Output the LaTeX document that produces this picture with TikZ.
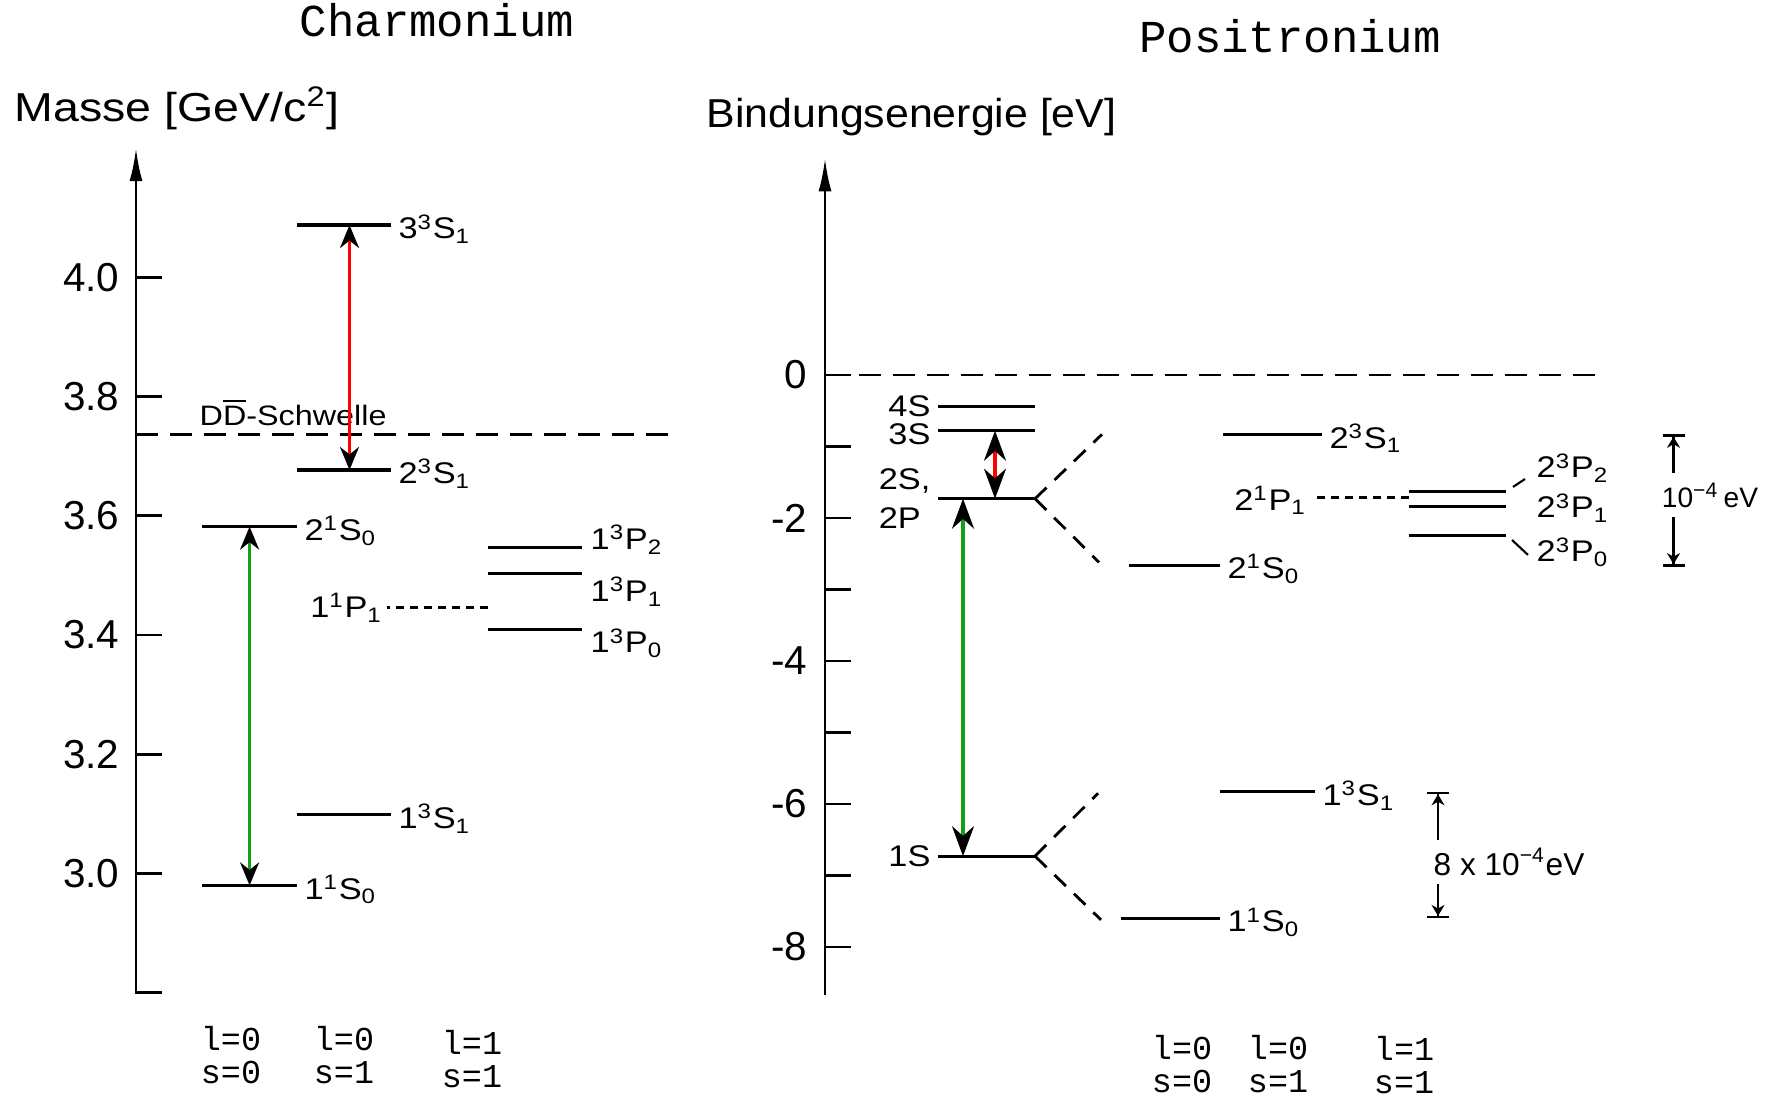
\documentclass[tikz,border=0pt]{standalone}
\usepackage{fontspec}
\setmainfont{Liberation Sans}
\newfontfamily\widesans[FakeStretch=1.15]{Liberation Sans}
\newfontfamily\midsans[FakeStretch=1.06]{Liberation Sans}
\newfontfamily\typew{Liberation Mono}
\usetikzlibrary{arrows.meta}
\definecolor{trgreen}{RGB}{20,160,20}
\newcommand{\termsym}[4]{#1\textsuperscript{#2}#3\textsubscript{#4}}

\begin{document}
\begin{tikzpicture}[>=Stealth,
  lvl/.style={line width=0.9pt},
  tick/.style={line width=0.8pt},
  axis/.style={line width=0.8pt,-{Latex[length=3.3mm,width=1.3mm]}},
  thr/.style={line width=0.8pt,dash pattern=on 2.2mm off 1.2mm},
  split/.style={line width=0.8pt,dash pattern=on 1.6mm off 1.1mm},
  dots/.style={line width=0.8pt,dash pattern=on 0.8mm off 0.6mm},
  trans/.style={line width=0.9pt,{Stealth[length=2.3mm,width=1.9mm,color=black]}-{Stealth[length=2.3mm,width=1.9mm,color=black]}},
  transl/.style={line width=0.9pt,{Stealth[length=3mm,width=2.2mm,color=black]}-{Stealth[length=3mm,width=2.2mm,color=black]}},
  bracket/.style={line width=0.7pt,-{Stealth[length=1.1mm,width=1.3mm]Bar[width=2.2mm]}},
  lab/.style={font=\widesans\fontsize{8.5}{10}\selectfont,inner sep=0.6mm},
  tk/.style={font=\fontsize{11.5}{13}\selectfont,anchor=east,inner sep=0pt},
  ttl/.style={font=\typew\fontsize{13}{15}\selectfont,anchor=base},
  ytl/.style={font=\widesans\fontsize{11.5}{14}\selectfont,anchor=base west,inner sep=0pt},
  ls/.style={font=\typew\fontsize{9.5}{9.6}\selectfont,align=center}]

\useasboundingbox (0,0) rectangle (17.79,10.98);

% titles
\node[ttl] (tch) at (4.37,10.61) {Charmonium};
\node[ttl] (tps) at (12.90,10.45) {Positronium};
\node[ytl] (ych) at (0.14,9.76) {Masse [GeV/c\textsuperscript{2}]};
\node[ytl,font=\midsans\fontsize{11.5}{14}\selectfont] (yps) at (7.06,9.70) {Bindungsenergie [eV]};

% Charmonium
\begin{scope}[y=5.96cm,yshift=-15.635cm]
\draw[axis] (1.62,2.8) -- (1.36,2.8) -- (1.36,4.217);
\foreach \m [count=\i] in {3.0,3.2,3.4,3.6,3.8,4.0}{
  \draw[tick] (1.36,\m) -- (1.62,\m);
  \node[tk] (cm\i) at (1.20,\m) {\m};
}
\draw[thr] (1.36,3.737) -- (6.75,3.737);
\node[font=\widesans\fontsize{8}{10}\selectfont,anchor=base west,inner sep=0pt] (dd) at (1.99,3.752) {D$\overline{\mbox{D}}$-Schwelle};
\draw[lvl] (2.97,4.088) -- (3.91,4.088) node[lab,right,yshift=-0.4mm] (c33S1) {\termsym{3}{3}{S}{1}};
\draw[lvl] (2.97,3.677) -- (3.91,3.677) node[lab,right,yshift=-0.4mm] (c23S1) {\termsym{2}{3}{S}{1}};
\draw[lvl] (2.02,3.582) -- (2.97,3.582) node[lab,right,yshift=-0.4mm] (c21S0) {\termsym{2}{1}{S}{0}};
\draw[lvl] (2.97,3.099) -- (3.91,3.099) node[lab,right,yshift=-0.4mm] (c13S1) {\termsym{1}{3}{S}{1}};
\draw[lvl] (2.02,2.980) -- (2.97,2.980) node[lab,right,yshift=-0.4mm] (c11S0) {\termsym{1}{1}{S}{0}};
\draw[dots] (4.88,3.446) -- (3.87,3.446) node[lab,left,inner xsep=0.3mm] (c11P1) {\termsym{1}{1}{P}{1}};
\draw[lvl] (4.88,3.547) -- (5.82,3.547);
\draw[lvl] (4.88,3.504) -- (5.82,3.504);
\draw[lvl] (4.88,3.409) -- (5.82,3.409);
\node[lab,anchor=base west,inner sep=0pt] (c13P2) at (5.90,3.543) {\termsym{1}{3}{P}{2}};
\node[lab,anchor=base west,inner sep=0pt] (c13P1) at (5.90,3.456) {\termsym{1}{3}{P}{1}};
\node[lab,anchor=base west,inner sep=0pt] (c13P0) at (5.90,3.370) {\termsym{1}{3}{P}{0}};
% transitions
\coordinate (cr1) at (3.495,3.677);
\coordinate (cr2) at (3.495,4.088);
\coordinate (cg1) at (2.496,2.980);
\coordinate (cg2) at (2.496,3.582);
\draw[trans,red] (cr1) -- (cr2);
\draw[trans,trgreen] (cg1) -- (cg2);
\end{scope}
\node[ls] (cq1) at (2.31,0.43) {l=0\\s=0};
\node[ls] (cq2) at (3.44,0.43) {l=0\\s=1};
\node[ls] (cq3) at (4.72,0.39) {l=1\\s=1};

% Positronium
\begin{scope}[y=0.715cm,yshift=7.23cm]
\draw[axis] (8.25,-8.67) -- (8.25,3.03);
\foreach \e in {0,-1,...,-8}
  \draw[tick] (8.25,\e) -- (8.51,\e);
\foreach \e/\t [count=\i] in {0/0,-2/-2,-4/-4,-6/-6,-8/-8}
  \node[tk] (pt\i) at (8.08,\e) {\t};
\draw[thr] (8.25,0) -- (16.05,0);
\draw[lvl] (10.35,-0.44) -- (9.38,-0.44) node[lab,left] (p4S) {4S};
\draw[lvl] (10.35,-0.78) -- (9.38,-0.78) node[lab,left,yshift=-0.3mm] (p3S) {3S};
\draw[lvl] (10.35,-1.73) coordinate (p2r) -- (9.38,-1.73) node[lab,left,align=left,font=\widesans\fontsize{8.5}{11}\selectfont] (p2S) {2S,\\2P};
\draw[lvl] (10.35,-6.73) coordinate (p1r) -- (9.38,-6.73) node[lab,left] (p1S) {1S};
% fine structure
\coordinate (p2u) at (11.02,-0.83);
\coordinate (p2d) at (10.99,-2.62);
\coordinate (p1u) at (10.98,-5.85);
\coordinate (p1d) at (11.01,-7.62);
\draw[split] (p2r) -- (p2u);
\draw[split] (p2r) -- (p2d);
\draw[split] (p1r) -- (p1u);
\draw[split] (p1r) -- (p1d);
\draw[lvl] (12.23,-0.83) -- (13.22,-0.83) node[lab,right,yshift=-0.4mm] (p23S1) {\termsym{2}{3}{S}{1}};
\draw[lvl] (11.29,-2.66) -- (12.20,-2.66) node[lab,right,yshift=-0.4mm] (p21S0) {\termsym{2}{1}{S}{0}};
\draw[dots] (14.09,-1.71) -- (13.14,-1.71) node[lab,left,yshift=-0.3mm] (p21P1) {\termsym{2}{1}{P}{1}};
\draw[lvl] (14.09,-1.63) -- (15.06,-1.63);
\draw[lvl] (14.09,-1.84) -- (15.06,-1.84);
\draw[lvl] (14.09,-2.25) -- (15.06,-2.25);
\node[lab,anchor=base west,inner sep=0pt] (p23P2) at (15.36,-1.44) {\termsym{2}{3}{P}{2}};
\node[lab,anchor=base west,inner sep=0pt] (p23P1) at (15.36,-2.00) {\termsym{2}{3}{P}{1}};
\node[lab,anchor=base west,inner sep=0pt] (p23P0) at (15.36,-2.615) {\termsym{2}{3}{P}{0}};
\draw[line width=0.6pt] (15.13,-1.566) -- (15.25,-1.455);
\draw[line width=0.6pt] (15.12,-2.308) -- (15.28,-2.517);
\draw[lvl] (12.20,-5.83) -- (13.15,-5.83) node[lab,right,yshift=-0.4mm] (p13S1) {\termsym{1}{3}{S}{1}};
\draw[lvl] (11.21,-7.60) -- (12.20,-7.60) node[lab,right,yshift=-0.4mm] (p11S0) {\termsym{1}{1}{S}{0}};
% splittings
\node[font=\fontsize{8}{10}\selectfont,inner xsep=0pt,inner ysep=0.9mm] (dE1) at (17.10,-1.68) {10\textsuperscript{−4}\,eV};
\coordinate (dE1t) at (16.735,-0.83);
\coordinate (dE1b) at (16.735,-2.68);
\draw[bracket] (dE1t |- dE1.north) -- (dE1t);
\draw[bracket] (dE1b |- dE1.south) -- (dE1b);
\node[font=\fontsize{9}{11}\selectfont,inner xsep=0pt,inner ysep=0.7mm] (dE2) at (15.09,-6.81) {8 x 10\textsuperscript{−4}eV};
\coordinate (dE2t) at (14.38,-5.83);
\coordinate (dE2b) at (14.38,-7.60);
\draw[bracket] (dE2t |- dE2.north) -- (dE2t);
\draw[bracket] (dE2b |- dE2.south) -- (dE2b);
% transitions
\coordinate (pr1) at (9.95,-1.73);
\coordinate (pr2) at (9.95,-0.78);
\coordinate (pg1) at (9.63,-6.73);
\coordinate (pg2) at (9.63,-1.73);
\draw[transl,red] (pr1) -- (pr2);
\draw[transl,trgreen] (pg1) -- (pg2);
\end{scope}
\node[ls] (pq1) at (11.82,0.34) {l=0\\s=0};
\node[ls] (pq2) at (12.78,0.34) {l=0\\s=1};
\node[ls] (pq3) at (14.04,0.33) {l=1\\s=1};
\end{tikzpicture}
\end{document}
